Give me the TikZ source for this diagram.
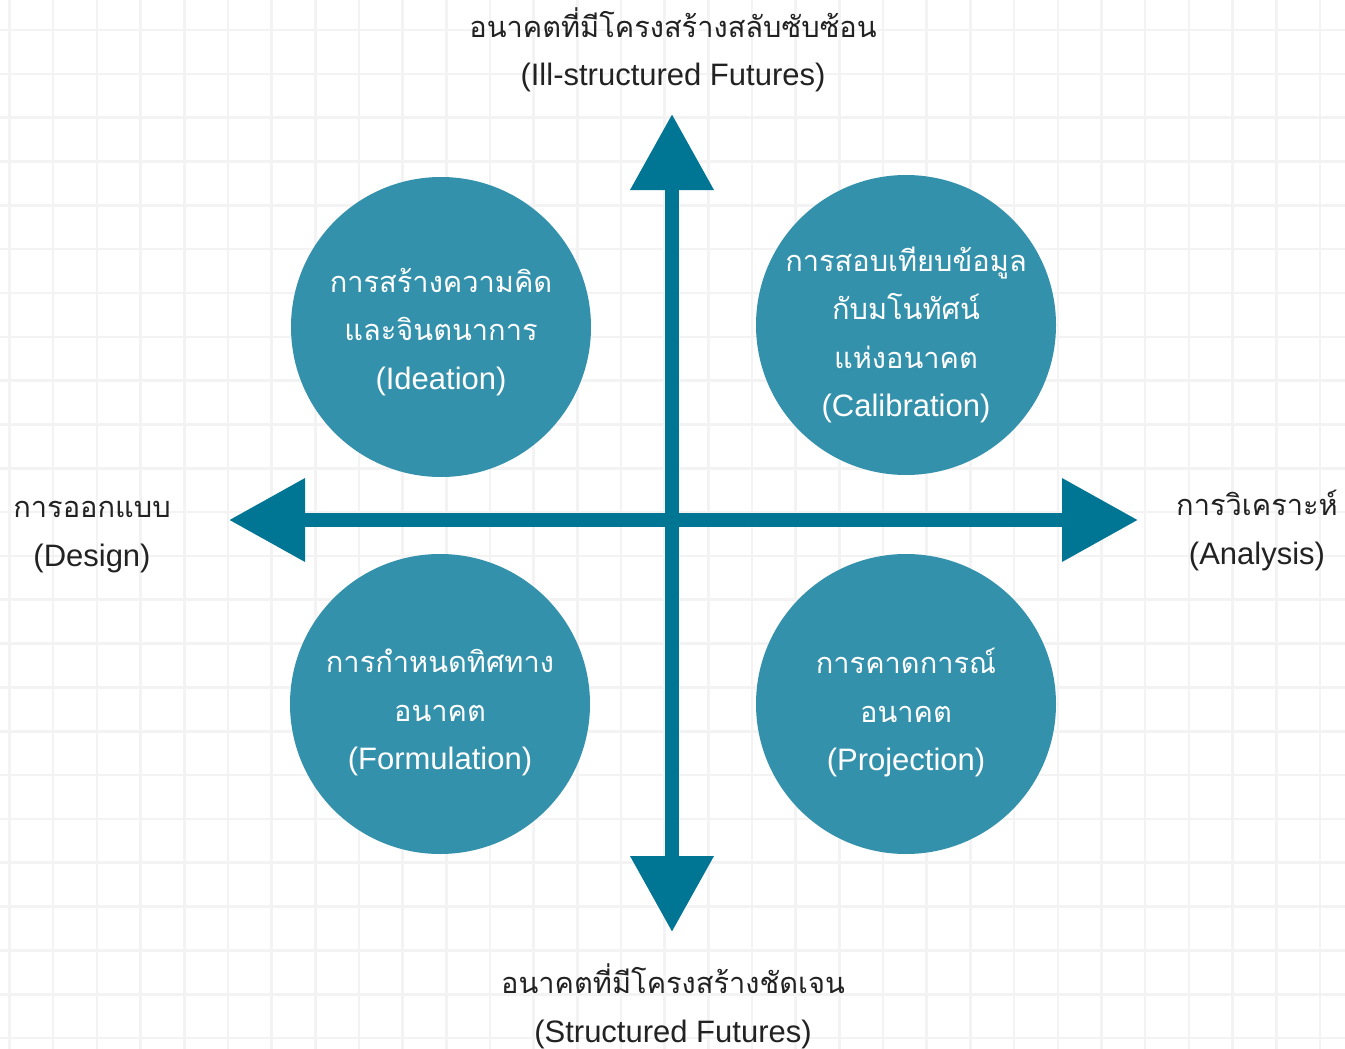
\documentclass[tikz,border=0pt]{standalone}
\usepackage{fontspec}
\setmainfont{Liberation Sans}
\newfontfamily\thai[Script=Thai]{Loma}
\newcommand{\eng}[1]{{\fontsize{31}{48.5}\selectfont #1}}
\usetikzlibrary{arrows.meta}
\definecolor{axisc}{HTML}{007594}
\definecolor{circc}{HTML}{3491AC}
\definecolor{gridc}{HTML}{F3F3F3}
\definecolor{txt}{HTML}{222222}
\begin{document}
\begin{tikzpicture}[x=1pt,y=-1pt,
  quad/.style={circle, fill=circc, draw=none, minimum size=300pt, inner sep=0pt},
  qtext/.style={align=center, text=white, inner sep=0pt, font=\fontsize{29}{48.5}\selectfont},
  lab/.style={align=center, text=txt, inner sep=0pt, font=\fontsize{29}{48.5}\selectfont},
  axis/.style={draw=axisc, line width=14pt, {Triangle[width=80pt,length=76pt]}-{Triangle[width=80pt,length=76pt]}},
]
\useasboundingbox (0,0) rectangle (1345,1049);
\fill[white] (0,0) rectangle (1345,1049);
% grid
\foreach \i in {0,...,30} {
  \draw[gridc, line width=2.6pt] ({9.5+43.68*\i},0) -- ({9.5+43.68*\i},1049);
}
\foreach \j in {0,...,23} {
  \draw[gridc, line width=2.6pt] (0,{30+43.83*\j}) -- (1345,{30+43.83*\j});
}
% axes
\coordinate (top) at (672,114);
\coordinate (bottom) at (672,932);
\coordinate (left) at (229,520);
\coordinate (right) at (1138,520);
\draw[axis] (left) -- (right);
\draw[axis] (bottom) -- (top);
% circles
\node[quad] (ideation) at (441,327) {};
\node[quad] (calibration) at (906,325) {};
\node[quad] (formulation) at (440,704) {};
\node[quad] (projection) at (906,704) {};
\node[qtext] (tideation) at (441,332) {{\thai การสร้างความคิด}\\{\thai และจินตนาการ}\\\eng{(Ideation)}};
\node[qtext] (tcalibration) at (906,335) {{\thai การสอบเทียบข้อมูล}\\{\thai กับมโนทัศน์}\\{\thai แห่งอนาคต}\\\eng{(Calibration)}};
\node[qtext] (tformulation) at (440,712.5) {{\thai การกำหนดทิศทาง}\\{\thai อนาคต}\\\eng{(Formulation)}};
\node[qtext] (tprojection) at (906,712.5) {{\thai การคาดการณ์}\\{\thai อนาคต}\\\eng{(Projection)}};
% axis labels
\node[lab] (ltop) at (673,50) {{\thai อนาคตที่มีโครงสร้างสลับซับซ้อน}\\\eng{(Ill-structured Futures)}};
\node[lab] (lbottom) at (673,1006.5) {{\thai อนาคตที่มีโครงสร้างชัดเจน}\\\eng{(Structured Futures)}};
\node[lab] (lleft) at (92,537) {{\thai การออกแบบ}\\\eng{(Design)}};
\node[lab] (lright) at (1257,530.5) {{\thai การวิเคราะห์}\\\eng{(Analysis)}};
\end{tikzpicture}
\end{document}
